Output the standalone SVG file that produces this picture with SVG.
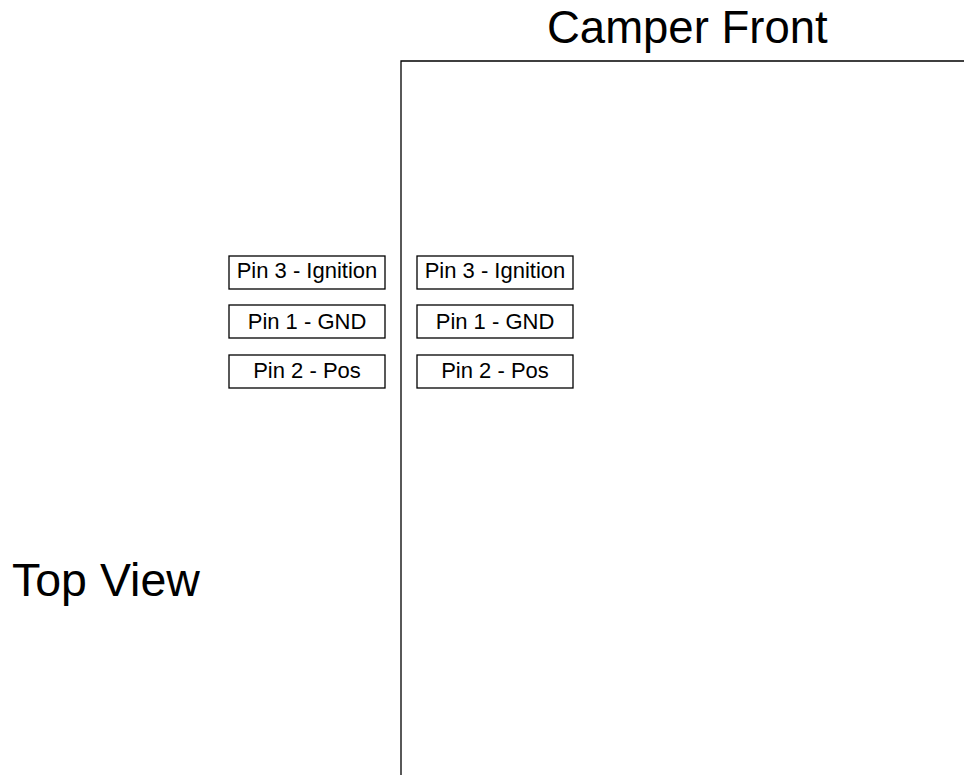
<svg xmlns="http://www.w3.org/2000/svg" width="964" height="775" viewBox="0 0 964 775">
<style>
.t{font-family:"Liberation Sans",Arial,sans-serif;fill:#000}
.pin rect{fill:#fff;stroke:#000;stroke-width:1.3}
.pin text{font-family:"Liberation Sans",Arial,sans-serif;font-size:22px;text-anchor:middle;fill:#000}
</style>
<rect width="964" height="775" fill="#fff"/>
<g id="outline">
<path d="M401 775 V61 H964" fill="none" stroke="#000" stroke-width="1.3"/>
</g>
<text class="t" x="547" y="43" font-size="45.5">Camper Front</text>
<text class="t" x="12" y="596" font-size="46.5">Top View</text>
<g id="left-pin3" class="pin"><rect x="229" y="256" width="156" height="33"/><text x="307" y="278">Pin 3 - Ignition</text></g>
<g id="left-pin1" class="pin"><rect x="229" y="305" width="156" height="33"/><text x="307" y="329">Pin 1 - GND</text></g>
<g id="left-pin2" class="pin"><rect x="229" y="355" width="156" height="33"/><text x="307" y="378">Pin 2 - Pos</text></g>
<g id="right-pin3" class="pin"><rect x="417" y="256" width="156" height="33"/><text x="495" y="278">Pin 3 - Ignition</text></g>
<g id="right-pin1" class="pin"><rect x="417" y="305" width="156" height="33"/><text x="495" y="329">Pin 1 - GND</text></g>
<g id="right-pin2" class="pin"><rect x="417" y="355" width="156" height="33"/><text x="495" y="378">Pin 2 - Pos</text></g>
</svg>
